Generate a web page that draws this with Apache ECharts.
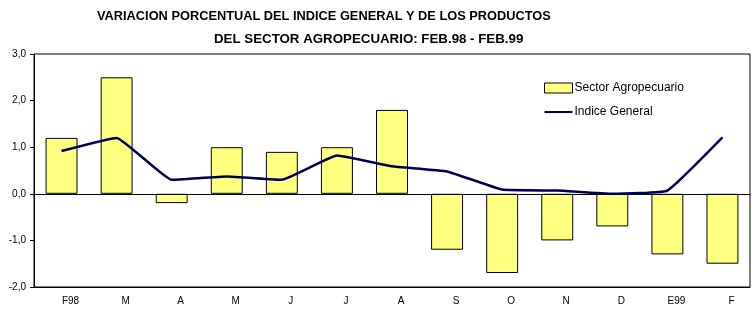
<!DOCTYPE html>
<html><head><meta charset="utf-8">
<script src="https://cdn.jsdelivr.net/npm/echarts@6/dist/echarts.min.js"></script>
<style>html,body{margin:0;padding:0;background:#fff}#c{width:755px;height:330px}</style>
</head><body><div id="c"></div>
<script>
const categories = ["F98","M","A","M","J","J","A","S","O","N","D","E99","F"];
const sectorAgro = [1.2, 2.5, -0.2, 1.0, 0.9, 1.0, 1.8, -1.2, -1.7, -1.0, -0.7, -1.3, -1.5];
const indiceGeneral = [0.92, 1.2, 0.3, 0.37, 0.3, 0.82, 0.59, 0.48, 0.09, 0.07, 0.0, 0.07, 1.21];
const yTicks = [-2, -1, 0, 1, 2, 3];
const titleLines = ["VARIACION PORCENTUAL DEL INDICE GENERAL Y DE LOS PRODUCTOS", "DEL SECTOR AGROPECUARIO: FEB.98 - FEB.99"];

const chart = echarts.init(document.getElementById('c'), null, {renderer:'canvas'});
const font = 'Liberation Sans, Arial, sans-serif';
chart.setOption({
  animation: false,
  backgroundColor: '#fff',
  title: [
    {text: titleLines[0], left: 97, top: 10, padding: 0,
     textStyle: {fontFamily: font, fontSize: 12.8, fontWeight: 'bold', color: '#000'}},
    {text: titleLines[1], left: 214, top: 33, padding: 0,
     textStyle: {fontFamily: font, fontSize: 13.3, fontWeight: 'bold', color: '#000'}}
  ],
  legend: {
    orient: 'vertical', left: 539, top: 77, itemGap: 12,
    itemWidth: 28, itemHeight: 10,
    textStyle: {fontFamily: font, fontSize: 12, color: '#000', padding: [0,0,0,-3]},
    data: [
      {name: 'Sector Agropecuario', icon: 'rect', itemStyle: {color:'#FFFF80', borderColor:'#000', borderWidth:1}},
      {name: 'Indice General', icon: 'path://M0,4h28v2h-28z', itemStyle: {color:'#000050'}}
    ]
  },
  grid: {left: 34, top: 54, right: 5, bottom: 43, show: true, borderColor: '#000', borderWidth: 1, backgroundColor: 'transparent'},
  xAxis: {
    type: 'category', data: categories,
    axisLine: {onZero: false, lineStyle: {color:'#000'}},
    axisTick: {show: false},
    axisLabel: {fontFamily: font, fontSize: 10, color: '#000', margin: 9, padding: [0,0,0,18]}
  },
  yAxis: {
    type: 'value', min: yTicks[0], max: yTicks[yTicks.length-1], interval: 1,
    axisLine: {show: true, lineStyle: {color:'#000'}},
    axisTick: {show: true, length: 4, lineStyle: {color:'#000'}},
    splitLine: {show: false},
    axisLabel: {fontFamily: font, fontSize: 10, color: '#000', margin: 8,
      formatter: v => v.toFixed(1).replace('.', ',')}
  },
  series: [
    {
      name: 'Sector Agropecuario', type: 'bar', data: sectorAgro, barWidth: '58%',
      itemStyle: {color: '#FFFF80', borderColor: '#000', borderWidth: 1},
      markLine: {silent: true, symbol: 'none', label: {show: false},
        lineStyle: {color: '#000', width: 1, type: 'solid'}, data: [{yAxis: 0}]}
    },
    {
      name: 'Indice General', type: 'line', data: indiceGeneral, smooth: 0.1,
      symbol: 'none', lineStyle: {color: '#000050', width: 2.5}, itemStyle: {color: '#000050'}, z: 5
    }
  ]
});
</script></body></html>
